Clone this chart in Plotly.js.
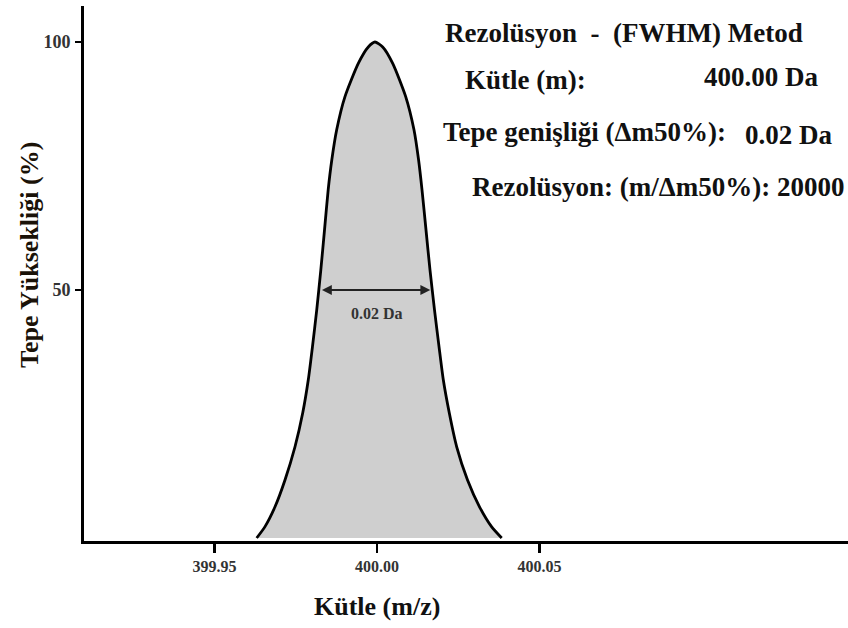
<!DOCTYPE html>
<html>
<head>
<meta charset="utf-8">
<script src="https://cdn.plot.ly/plotly-3.0.1.min.js"></script>
<style>html,body{margin:0;padding:0;background:#fff;}#chart{width:848px;height:628px;}</style>
</head>
<body>
<div id="chart"></div>
<script>
// Data (peak profile, mass in Da vs. relative height in %)
const massX = [399.96298, 399.96554, 399.96862, 399.97169, 399.97477, 399.97714, 399.97886, 399.98015, 399.98146, 399.98271, 399.98385, 399.98498, 399.98609, 399.98760, 399.99015, 399.99425, 399.99732, 399.99938,
               400.00175, 400.00483, 400.00883, 400.01138, 400.01280, 400.01385, 400.01508, 400.01631, 400.01769, 400.01908, 400.02040, 400.02225, 400.02452, 400.02785, 400.03154, 400.03523, 400.03837];
const peakHeight = [0, 2.3, 6.3, 11.7, 18.4, 25.2, 31.9, 38.6, 46.0, 54.0, 62.1, 70.2, 76.2, 82.3, 89.0, 95.7, 99.0, 100,
                    99.0, 95.7, 89.0, 82.3, 76.2, 70.2, 62.1, 54.0, 46.0, 38.6, 31.9, 25.2, 18.4, 11.7, 6.3, 2.3, 0];
const xTickVals = [399.95, 400.00, 400.05];
const xTickText = ["399.95", "400.00", "400.05"];
const yTickVals = [50, 100];
const yTickText = ["50", "100"];
const fwhmStart = 399.9826, fwhmEnd = 400.0164, halfHeight = 50;
const fwhmLabel = "0.02 Da";
const xTitle = "Kütle (m/z)";
const yTitle = "Tepe Yüksekliği (%)";
const infoLines = [
  {text: "Rezolüsyon  -  (FWHM) Metod", px: 443, py: 33},
  {text: "Kütle (m):", px: 463, py: 80},
  {text: "400.00 Da", px: 702, py: 77},
  {text: "Tepe genişliği (Δm50%):", px: 441, py: 132},
  {text: "0.02 Da", px: 743, py: 135},
  {text: "Rezolüsyon: (m/Δm50%): 20000", px: 470, py: 187}
];

const serif = "'Liberation Serif', 'Times New Roman', Times, serif";
const L = 84, R = 848, T = 6, B = 541;
const toPaperX = px => (px - L) / (R - L);
const toPaperY = py => (B - py) / (B - T);

const trace = {
  x: massX, y: peakHeight, type: 'scatter', mode: 'lines',
  fill: 'tozeroy', fillcolor: '#cfcfcf',
  line: {color: '#000', width: 2.8, shape: 'spline', smoothing: 0.6},
  hoverinfo: 'skip', showlegend: false
};

const annotations = infoLines.map(l => ({
  xref: 'paper', yref: 'paper', x: toPaperX(l.px), y: toPaperY(l.py),
  xanchor: 'left', yanchor: 'middle', showarrow: false, text: '<b>' + l.text + '</b>',
  font: {family: serif, size: 27, color: '#111'}
}));
annotations.push({
  xref: 'x', yref: 'y', axref: 'x', ayref: 'y',
  x: fwhmEnd, y: halfHeight, ax: fwhmStart, ay: halfHeight,
  showarrow: true, arrowhead: 2, arrowside: 'end+start', arrowsize: 1.1, arrowwidth: 1.8,
  arrowcolor: '#222', text: ''
});
annotations.push({
  xref: 'x', yref: 'y', x: 400.0000, y: 45.2, showarrow: false, text: '<b>' + fwhmLabel + '</b>',
  font: {family: serif, size: 16, color: '#333'}
});
annotations.push({
  xref: 'paper', yref: 'paper', x: toPaperX(377), y: toPaperY(606),
  xanchor: 'center', yanchor: 'middle', showarrow: false, text: '<b>' + xTitle + '</b>',
  font: {family: serif, size: 26, color: '#111'}
});
annotations.push({
  xref: 'paper', yref: 'paper', x: toPaperX(29), y: toPaperY(255),
  xanchor: 'center', yanchor: 'middle', showarrow: false, text: '<b>' + yTitle + '</b>', textangle: -90,
  font: {family: serif, size: 26, color: '#1a1208'}
});

const layout = {
  width: 848, height: 628,
  margin: {l: L, r: 848 - R, t: T, b: 628 - B, pad: 0},
  paper_bgcolor: '#fff', plot_bgcolor: '#fff',
  font: {family: serif},
  xaxis: {
    range: [399.90985, 400.14492], tickvals: xTickVals, ticktext: xTickText.map(t => '<b>' + t + '</b>'),
    showgrid: false, zeroline: false, showline: true, linecolor: '#000', linewidth: 2.8,
    ticks: 'outside', ticklen: 9, tickwidth: 2.5, tickcolor: '#000',
    tickfont: {family: serif, size: 16, color: '#333'}
  },
  yaxis: {
    range: [-0.6, 107.26], tickvals: yTickVals, ticktext: yTickText.map(t => '<b>' + t + '</b>'),
    showgrid: false, zeroline: false, showline: true, linecolor: '#000', linewidth: 2.8,
    ticks: 'outside', ticklen: 6, tickwidth: 2.5, tickcolor: '#000', ticklabelstandoff: 1,
    tickfont: {family: serif, size: 18, color: '#333'}
  },
  annotations: annotations
};

Plotly.newPlot('chart', [trace], layout, {staticPlot: true, displayModeBar: false});
</script>
</body>
</html>
